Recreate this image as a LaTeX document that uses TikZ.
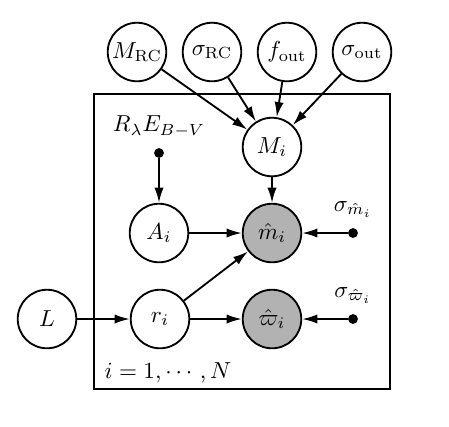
\documentclass[tikz,border=0pt]{standalone}
\usepackage{amsmath,amssymb}
\usetikzlibrary{arrows.meta,positioning}

\begin{document}
\begin{tikzpicture}[x=0.0152cm,y=-0.0152cm,
        latent/.style={circle,draw,thick,minimum size=0.89cm,inner sep=0pt},
        obs/.style={latent,fill=black!30},
        fixed/.style={circle,fill=black,inner sep=0pt,minimum size=0.15cm},
        edge/.style={thick,-{Latex[length=2.3mm,width=1.4mm]}}]
        \useasboundingbox (0,0) rectangle (449,426);
        % plate
        \draw[thick] (94,94) rectangle (390,389);
        \node (plate) at (168,373) {$i=1,\cdots,N$};
        % hyperparameters
        \node[latent] (MRC) at (137,52) {$M_{\mathrm{RC}}$};
        \node[latent] (sRC) at (212,52) {$\sigma_{\mathrm{RC}}$};
        \node[latent] (fout) at (287,52) {$f_{\mathrm{out}}$};
        \node[latent] (sout) at (362,52) {$\sigma_{\mathrm{out}}$};
        \node[latent] (L) at (47,319) {$L$};
        % inside the plate
        \node[latent] (Mi) at (272,147) {$M_i$};
        \node[latent] (Ai) at (159,233) {$A_i$};
        \node[latent] (ri) at (160,319) {$r_i$};
        \node[obs] (mh) at (272,233) {$\hat{m}_i$};
        \node[obs] (wh) at (272,319) {$\hat{\varpi}_i$};
        % fixed values
        \node[fixed] (ext) at (159,153) {};
        \node[above=1pt of ext] (extlab) {$R_\lambda E_{B-V}$};
        \node[fixed] (sm) at (353,233) {};
        \node[above=1pt of sm] (smlab) {$\sigma_{\hat{m}_i}$};
        \node[fixed] (sw) at (353,319) {};
        \node[above=1pt of sw] (swlab) {$\sigma_{\hat{\varpi}_i}$};
        % edges
        \foreach \n in {MRC,sRC,fout,sout}
        \draw[edge] (\n) -- (Mi);
        \draw[edge] (Mi) -- (mh);
        \draw[edge] (ext) -- (Ai);
        \draw[edge] (Ai) -- (mh);
        \draw[edge] (ri) -- (mh);
        \draw[edge] (ri) -- (wh);
        \draw[edge] (L) -- (ri);
        \draw[edge] (sm) -- (mh);
        \draw[edge] (sw) -- (wh);
\end{tikzpicture}
\end{document}
